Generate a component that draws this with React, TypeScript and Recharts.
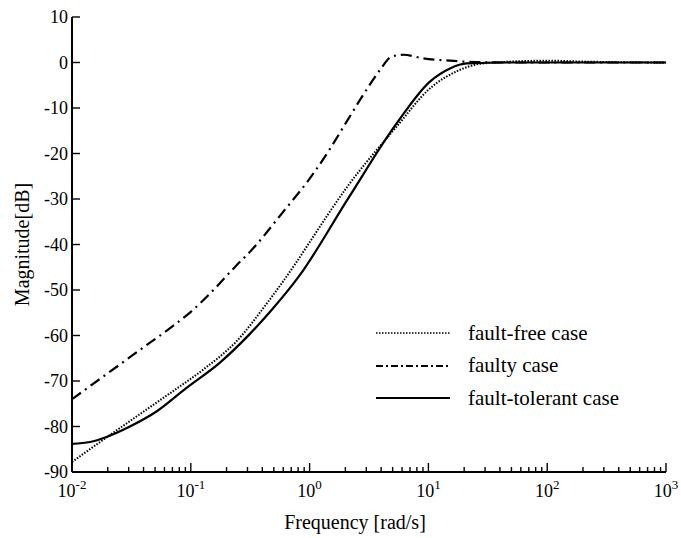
import React from "react";
import { LineChart, Line, XAxis, YAxis } from "recharts";

// frequency [rad/s] / magnitude [dB]
const freeFreq = [0.01, 0.0208, 0.0349, 0.0667, 0.127, 0.242, 0.435, 0.77, 1, 2.05, 5.4, 10.3, 18.5, 27, 50, 100, 200, 1000];
const freeMag = [-87.8, -81.9, -77.8, -72.7, -67.5, -61.3, -53, -44, -39.5, -27.5, -14.1, -5.7, -1.6, -0.3, 0.2, 0.4, 0.2, 0];

const faultyFreq = [0.01, 0.02, 0.04, 0.07, 0.1, 0.155, 0.242, 0.315, 0.6, 1.07, 1.49, 2.05, 2.83, 3.92, 4.9, 6.15, 9.06, 15.2, 25, 50, 100, 1000];
const faultyMag = [-74, -68.3, -62.6, -58, -54.8, -50, -44.6, -41.6, -32.8, -24.5, -18.9, -13, -7.1, -1.6, 1.3, 1.7, 0.9, 0.4, 0.1, 0, 0, 0];

const tolerantFreq = [0.01, 0.0142, 0.0195, 0.0307, 0.0514, 0.092, 0.175, 0.313, 0.461, 0.824, 2.12, 5.4, 10.3, 15.2, 21, 50, 100, 1000];
const tolerantMag = [-83.8, -83.4, -82.3, -80, -76.7, -71.5, -66, -59.7, -54.9, -46.8, -29.8, -13.4, -4.2, -1.3, -0.2, 0, 0, 0];

const decades = [0.01, 0.1, 1, 10, 100, 1000];
const decadeExp = ["-2", "-1", "0", "1", "2", "3"];
const minorSteps = [2, 3, 4, 5, 6, 7, 8, 9];
const yTicks = [-90, -80, -70, -60, -50, -40, -30, -20, -10, 0, 10];

const legendItems = [
  { name: "fault-free case", dash: "1.5 1.5", width: 1.6 },
  { name: "faulty case", dash: "7 3 2 3", width: 2 },
  { name: "fault-tolerant case", dash: undefined, width: 2.2 },
];

const xTicks: number[] = [];
decades.forEach((d, i) => {
  xTicks.push(d);
  if (i < decades.length - 1) minorSteps.forEach((m) => xTicks.push(+(d * m).toPrecision(3)));
});

const toRows = (fs: number[], ms: number[]) => fs.map((f, i) => ({ f, mag: ms[i] }));
const freeData = toRows(freeFreq, freeMag);
const faultyData = toRows(faultyFreq, faultyMag);
const tolerantData = toRows(tolerantFreq, tolerantMag);

const FONT = "'Liberation Serif', 'Times New Roman', serif";
const txt = { fontFamily: FONT, fill: "#000" };

const isDecade = (v: number) => decades.some((d) => Math.abs(d - v) < 1e-9);

function BottomTick(props: any) {
  const { x, y, payload } = props;
  const v = payload.value;
  const major = isDecade(v);
  const idx = decades.findIndex((d) => Math.abs(d - v) < 1e-9);
  return (
    <g>
      <line x1={x} x2={x} y1={y} y2={y - (major ? 9 : 5)} stroke="#000" strokeWidth={1.4} />
      {major && (
        <text x={x} y={y + 25} textAnchor="middle" fontSize={18} style={txt}>
          <tspan>10</tspan>
          <tspan dy={-8} fontSize={13}>{decadeExp[idx]}</tspan>
        </text>
      )}
    </g>
  );
}

function TopTick(props: any) {
  const { x, y, payload } = props;
  const major = isDecade(payload.value);
  return <line x1={x} x2={x} y1={y} y2={y + (major ? 9 : 5)} stroke="#000" strokeWidth={1.4} />;
}

function LeftTick(props: any) {
  const { x, y, payload } = props;
  return (
    <g>
      <line x1={x} x2={x + 8} y1={y} y2={y} stroke="#000" strokeWidth={1.4} />
      <text x={x - 4} y={y + 6} textAnchor="end" fontSize={18} style={txt}>
        {payload.value}
      </text>
    </g>
  );
}

function RightTick(props: any) {
  const { x, y } = props;
  return <line x1={x} x2={x - 8} y1={y} y2={y} stroke="#000" strokeWidth={1.4} />;
}

function XLabel(props: any) {
  const { viewBox } = props;
  return (
    <text x={viewBox.x + viewBox.width / 2 - 14} y={viewBox.y + viewBox.height - 9} textAnchor="middle" fontSize={20} style={txt}>
      Frequency [rad/s]
    </text>
  );
}

function YLabel(props: any) {
  const { viewBox } = props;
  const cx = viewBox.x + 10;
  const cy = viewBox.y + viewBox.height / 2;
  return (
    <text x={cx} y={cy} transform={`rotate(-90 ${cx} ${cy})`} textAnchor="middle" dominantBaseline="central" fontSize={20} style={txt}>
      Magnitude[dB]
    </text>
  );
}

function LegendBox() {
  return (
    <div style={{ position: "absolute", left: 376, top: 317, fontFamily: FONT, fontSize: 21, color: "#000", pointerEvents: "none" }}>
      {legendItems.map((it) => (
        <div key={it.name} style={{ display: "flex", alignItems: "center", height: 32.5 }}>
          <svg width={74} height={10} style={{ marginRight: 18 }}>
            <line x1={0} x2={74} y1={5} y2={5} stroke="#000" strokeWidth={it.width} strokeDasharray={it.dash} />
          </svg>
          <span style={{ whiteSpace: "nowrap" }}>{it.name}</span>
        </div>
      ))}
    </div>
  );
}

export default function App() {
  const axisLine = { stroke: "#000", strokeWidth: 2 };
  return (
    <div style={{ position: "absolute", left: 0, top: 0, width: 681, height: 538, background: "#fff" }}>
      <LineChart width={681} height={538} margin={{ top: 17, right: 15, left: 12, bottom: 0 }}>
        <XAxis
          dataKey="f"
          type="number"
          scale="log"
          domain={[0.01, 1000]}
          allowDataOverflow
          ticks={xTicks}
          interval={0}
          tick={<BottomTick />}
          tickSize={0}
          tickMargin={0}
          tickLine={false}
          axisLine={axisLine}
          height={66}
          label={<XLabel />}
        />
        <XAxis
          xAxisId="top"
          orientation="top"
          dataKey="f"
          type="number"
          scale="log"
          domain={[0.01, 1000]}
          allowDataOverflow
          ticks={xTicks}
          interval={0}
          tick={<TopTick />}
          tickSize={0}
          tickMargin={0}
          tickLine={false}
          axisLine={axisLine}
          height={0}
        />
        <YAxis
          type="number"
          domain={[-90, 10]}
          ticks={yTicks}
          interval={0}
          tick={<LeftTick />}
          tickSize={0}
          tickMargin={0}
          tickLine={false}
          axisLine={axisLine}
          width={60}
          allowDataOverflow
          label={<YLabel />}
        />
        <YAxis
          yAxisId="right"
          orientation="right"
          type="number"
          domain={[-90, 10]}
          ticks={yTicks}
          interval={0}
          tick={<RightTick />}
          tickSize={0}
          tickMargin={0}
          tickLine={false}
          axisLine={axisLine}
          width={0}
        />
        <Line data={freeData} dataKey="mag" name="fault-free case" type="monotone" stroke="#000" strokeWidth={2} strokeDasharray="1.5 1.5" dot={false} isAnimationActive={false} />
        <Line data={faultyData} dataKey="mag" name="faulty case" type="monotone" stroke="#000" strokeWidth={2.2} strokeDasharray="11 5 2 5" dot={false} isAnimationActive={false} />
        <Line data={tolerantData} dataKey="mag" name="fault-tolerant case" type="monotone" stroke="#000" strokeWidth={2.2} dot={false} isAnimationActive={false} />
      </LineChart>
      <LegendBox />
    </div>
  );
}
